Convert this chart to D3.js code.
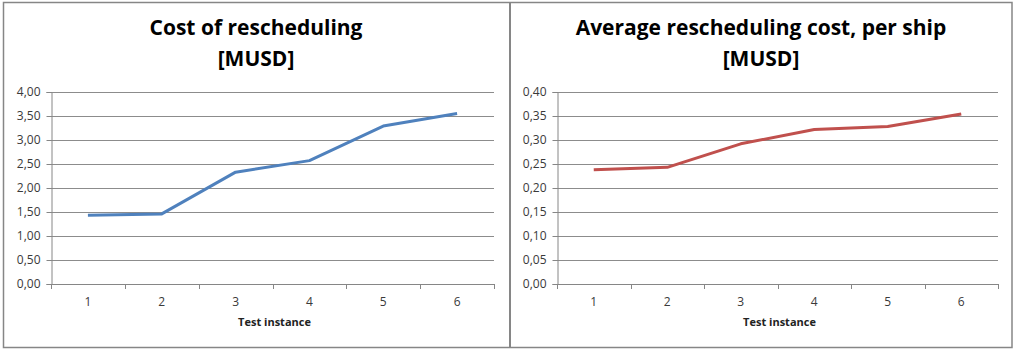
<!DOCTYPE html>
<html>
<head>
<meta charset="utf-8">
<script src="https://cdn.jsdelivr.net/npm/d3@7"></script>
<style>
  html, body { margin: 0; padding: 0; background: #fff; }
  svg { display: block; }
</style>
</head>
<body>
<svg id="chart" width="1014" height="349"></svg>
<script>
// Test instances shared by both charts
const instances = [1, 2, 3, 4, 5, 6];

// Total cost of rescheduling [MUSD]
const totalCost = [1.43, 1.46, 2.33, 2.57, 3.29, 3.55];
const totalTicks = [0, 0.5, 1, 1.5, 2, 2.5, 3, 3.5, 4];

// Average rescheduling cost per ship [MUSD]
const avgCost = [0.238, 0.243, 0.292, 0.322, 0.328, 0.354];
const avgTicks = [0, 0.05, 0.1, 0.15, 0.2, 0.25, 0.3, 0.35, 0.4];

const titles = [
  ["Cost of rescheduling", "[MUSD]"],
  ["Average rescheduling cost, per ship", "[MUSD]"]
];
const xTitle = "Test instance";

const svg = d3.select("#chart");
const fmt = v => d3.format(".2f")(v).replace(".", ",");

const frameColor = "#868686";
const gridColor = "#8c8c8c";
const textColor = "#3a3a3a";
const font = "'Open Sans', 'DejaVu Sans', sans-serif";

// Outer frame and divider between the two panels
svg.append("rect")
  .attr("x", 3.5).attr("y", 2.5).attr("width", 1008.5).attr("height", 345)
  .attr("fill", "none").attr("stroke", frameColor).attr("stroke-width", 1.5);
svg.append("line")
  .attr("x1", 510).attr("x2", 510).attr("y1", 2.5).attr("y2", 347.5)
  .attr("stroke", frameColor).attr("stroke-width", 2);

function panel(cfg) {
  const g = svg.append("g");
  const x = d3.scaleBand().domain(instances).range([cfg.left, cfg.right]).padding(0);
  const y = d3.scaleLinear().domain([cfg.ticks[0], cfg.ticks[cfg.ticks.length - 1]])
    .range([cfg.bottom, cfg.top]);

  // Title (two lines)
  const t = g.append("text")
    .attr("text-anchor", "middle")
    .attr("font-family", font).attr("font-weight", "bold")
    .attr("font-size", 21).attr("fill", "#000");
  cfg.title.forEach((line, i) => {
    t.append("tspan").attr("x", cfg.titleX).attr("y", 35 + i * 31).text(line);
  });

  // Horizontal gridlines
  g.append("g").selectAll("line")
    .data(cfg.ticks.slice(1))
    .join("line")
    .attr("x1", cfg.left).attr("x2", cfg.right)
    .attr("y1", d => Math.round(y(d)) + 0.5).attr("y2", d => Math.round(y(d)) + 0.5)
    .attr("stroke", gridColor).attr("stroke-width", 1);

  // Y axis with ticks and labels
  const yAxis = d3.axisLeft(y).tickValues(cfg.ticks).tickFormat(fmt).tickSize(5).tickPadding(6);
  const ya = g.append("g").attr("transform", `translate(${cfg.left + 0.5},0)`).call(yAxis);
  ya.selectAll(".tick line").attr("stroke", frameColor);
  ya.selectAll(".tick").attr("transform", d => `translate(0,${Math.round(y(d)) + 0.5})`);
  ya.select(".domain").attr("stroke", frameColor);
  ya.selectAll("text").attr("font-family", font).attr("font-size", 12).attr("fill", textColor);

  // X axis: baseline with ticks at category boundaries
  const xa = g.append("g");
  xa.append("line")
    .attr("x1", cfg.left).attr("x2", cfg.right)
    .attr("y1", cfg.bottom + 0.5).attr("y2", cfg.bottom + 0.5)
    .attr("stroke", frameColor);
  const edges = instances.map(d => x(d)).concat([x(instances[instances.length - 1]) + x.bandwidth()]);
  xa.selectAll("line.tick").data(edges).join("line").attr("class", "tick")
    .attr("x1", d => Math.round(d) + 0.5).attr("x2", d => Math.round(d) + 0.5)
    .attr("y1", cfg.bottom).attr("y2", cfg.bottom + 5)
    .attr("stroke", frameColor);
  xa.selectAll("text").data(instances).join("text")
    .attr("x", d => x(d) + x.bandwidth() / 2)
    .attr("y", cfg.bottom + 22)
    .attr("text-anchor", "middle")
    .attr("font-family", font).attr("font-size", 12).attr("fill", textColor)
    .text(d => d);

  // Axis title
  g.append("text")
    .attr("x", (cfg.left + cfg.right) / 2 + 2).attr("y", cfg.bottom + 42)
    .attr("text-anchor", "middle")
    .attr("font-family", font).attr("font-weight", "bold").attr("font-size", 11)
    .attr("fill", "#222")
    .text(xTitle);

  // Data line
  const line = d3.line()
    .x((d, i) => x(instances[i]) + x.bandwidth() / 2)
    .y(d => y(d));
  g.append("path")
    .datum(cfg.values)
    .attr("d", line)
    .attr("fill", "none")
    .attr("stroke", cfg.color)
    .attr("stroke-width", 3)
    .attr("stroke-linejoin", "round");
}

panel({
  left: 51, right: 494, top: 92, bottom: 284,
  titleX: 256, title: titles[0],
  ticks: totalTicks, values: totalCost, color: "#4f81bd"
});

panel({
  left: 557, right: 998, top: 92, bottom: 284,
  titleX: 761, title: titles[1],
  ticks: avgTicks, values: avgCost, color: "#c0504d"
});
</script>
</body>
</html>
